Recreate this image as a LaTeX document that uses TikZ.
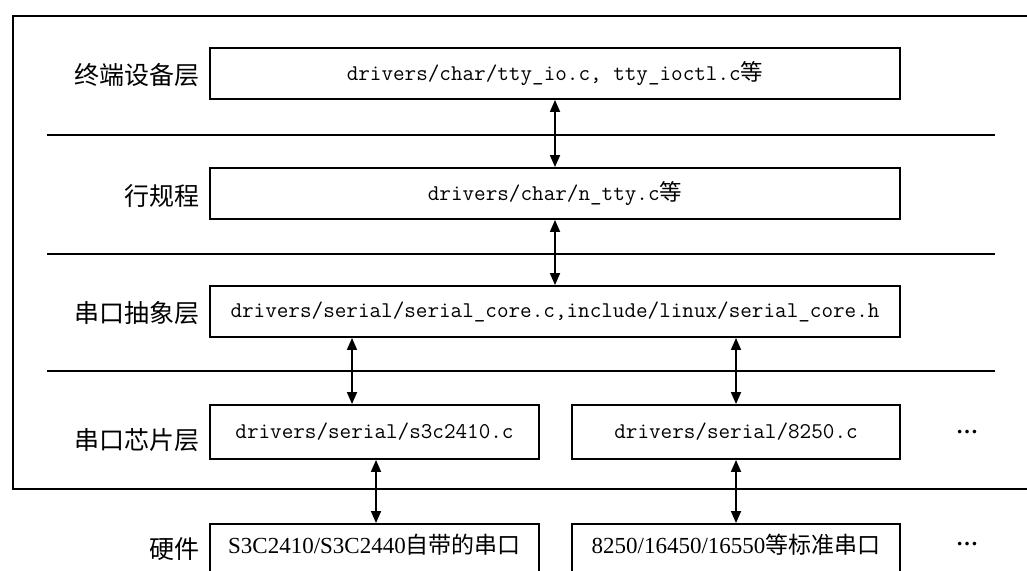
\documentclass[tikz,border=0pt]{standalone}
\usepackage{fontspec}
\newfontfamily\cjk{Noto Sans CJK SC}
\newfontfamily\serifhw{Liberation Serif}
\usetikzlibrary{arrows.meta}
\begin{document}
\begin{tikzpicture}[x=1pt,y=-1pt,
  box/.style={draw, line width=1.9pt, inner sep=0pt, font=\ttfamily\fontsize{22.5}{23}\selectfont},
  hwbox/.style={draw, line width=1.9pt, inner sep=0pt, text height=16pt, text depth=24pt,
                font=\serifhw\fontsize{23}{24}\selectfont},
  lab/.style={anchor=east, inner sep=0pt, font=\cjk\fontsize{25}{26}\selectfont},
  sepline/.style={line width=1.9pt},
  arr/.style={line width=1.7pt, {Triangle[length=12pt,width=10pt]}-{Triangle[length=12pt,width=10pt]}},
  dotsnode/.style={anchor=base, inner sep=0pt, font=\serifhw\bfseries\fontsize{22}{22}\selectfont}]
\clip (0,0) rectangle (1027,570);
% outer frame (right side beyond the picture)
\draw[sepline, line join=miter] (1040,16) -| (13,489) -- (1040,489);
% layer separators
\draw[sepline] (47,135) -- (995,135);
\draw[sepline] (47,254) -- (995,254);
\draw[sepline] (47,371) -- (995,371);
% boxes
\node[box, minimum width=690pt, minimum height=51pt] (b1) at (555,73.5) {drivers/char/tty\_io.c, tty\_ioctl.c{\cjk 等}};
\node[box, minimum width=690pt, minimum height=51pt] (b2) at (555,193.5) {drivers/char/n\_tty.c{\cjk 等}};
\node[box, minimum width=690pt, minimum height=51pt] (b3) at (555,311.5) {drivers/serial/serial\_core.c,include/linux/serial\_core.h};
\node[box, minimum width=329pt, minimum height=54pt] (b4l) at (374.5,432) {drivers/serial/s3c2410.c};
\node[box, minimum width=328pt, minimum height=54pt] (b4r) at (736,432) {drivers/serial/8250.c};
\node[hwbox, minimum width=329pt, minimum height=66pt] (b5l) at (374.5,557) {S3C2410/S3C2440{\cjk 自带的串口}};
\node[hwbox, minimum width=328pt, minimum height=66pt] (b5r) at (736,557) {8250/16450/16550{\cjk 等标准串口}};
% labels
\node[lab] (l1) at (200,75) {终端设备层};
\node[lab] (l2) at (200,196) {行规程};
\node[lab] (l3) at (200,313) {串口抽象层};
\node[lab] (l4) at (200,440) {串口芯片层};
\node[lab] (l5) at (200,549) {硬件};
% ellipses
\node[dotsnode] (d1) at (967,433) {…};
\node[dotsnode] (d2) at (967,545) {…};
% connector columns
\coordinate (c1) at (555,0);
\coordinate (c2) at (352,0);
\coordinate (c3) at (376,0);
\coordinate (c4) at (736,0);
\draw[arr] (b1.south -| c1) -- (b2.north -| c1);
\draw[arr] (b2.south -| c1) -- (b3.north -| c1);
\draw[arr] (b3.south -| c2) -- (b4l.north -| c2);
\draw[arr] (b4l.south -| c3) -- (b5l.north -| c3);
\draw[arr] (b3.south -| c4) -- (b4r.north -| c4);
\draw[arr] (b4r.south -| c4) -- (b5r.north -| c4);
\end{tikzpicture}
\end{document}
